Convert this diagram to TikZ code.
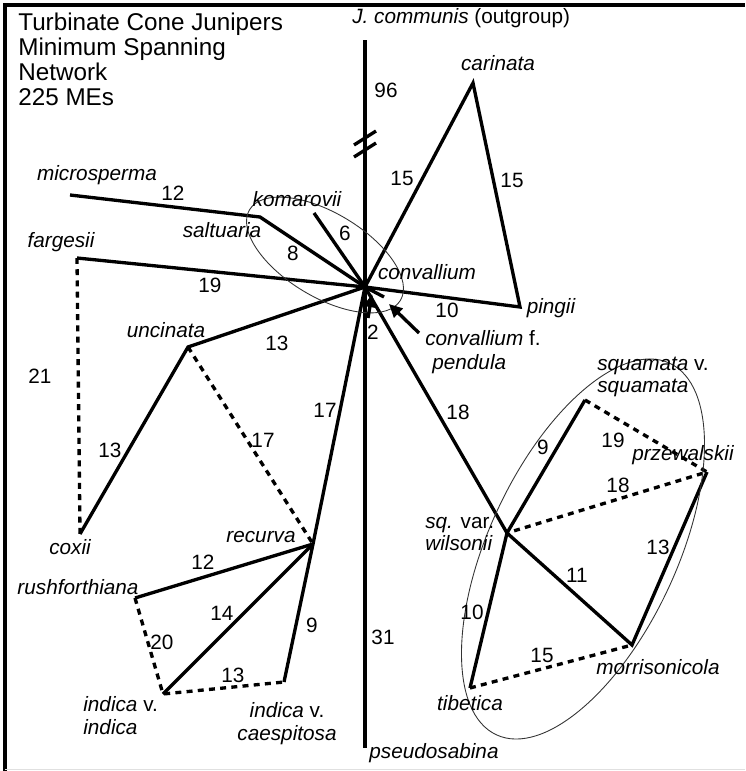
\documentclass[tikz,border=0pt]{standalone}
\usepackage{fontspec}
\setmainfont{Liberation Sans}
\usetikzlibrary{arrows.meta,calc}

\tikzset{
  branch/.style={line width=1.9pt},
  gapline/.style={line width=1.9pt, dash pattern=on 3.4pt off 3pt},
  group/.style={line width=0.5pt, draw=black!80},
  taxon/.style={font=\fontsize{11.8}{13}\selectfont\itshape, inner sep=0pt},
  steps/.style={font=\fontsize{11.8}{13}\selectfont, inner sep=0pt},
  pointer/.style={->, line width=1.9pt},
}

\begin{document}
\begin{tikzpicture}[x=0.02cm, y=-0.02cm, >={Triangle[length=7.5pt,width=7pt]}]
    \useasboundingbox (0,0) rectangle (745,771);

    % Frame
    \draw[line width=1.8pt] (5,771) -- (5,5) -- (745,5);
    \draw[black!12, line width=0.8pt] (5,769.5) -- (745,769.5);

    % Title
    \node[anchor=north west, align=left, inner sep=0pt,
          font=\fontsize{13.8}{14.2}\selectfont] (title) at (18,13)
        {Turbinate Cone Junipers\\Minimum Spanning\\Network\\225 MEs};

    % Taxa (network vertices)
    \coordinate (conv) at (365,287);
    \coordinate (communis) at (365,40);
    \coordinate (pseudosabina) at (365,748);
    \coordinate (carinata) at (473,83);
    \coordinate (pingii) at (520,307);
    \coordinate (komarovii) at (314,213);
    \coordinate (saltuaria) at (260,217);
    \coordinate (microsperma) at (70,195);
    \coordinate (fargesii) at (77,258);
    \coordinate (pendula) at (384,297);
    \coordinate (uncinata) at (188,347);
    \coordinate (coxii) at (80,534);
    \coordinate (recurva) at (313,544);
    \coordinate (rushforthiana) at (135,598);
    \coordinate (indica) at (163,694);
    \coordinate (caespitosa) at (284,682);
    \coordinate (wilsonii) at (507,533);
    \coordinate (squamata) at (585,400);
    \coordinate (przewalskii) at (707,472);
    \coordinate (morrisonicola) at (632,645);
    \coordinate (tibetica) at (470,688);

    % Outgroup axis with break
    \draw[branch] (communis) -- (pseudosabina);
    \draw[branch] (354,145) -- (376,131);
    \draw[branch] (354,157) -- (376,143);

    % Solid links
    \draw[branch] (conv) -- (carinata) -- (pingii) -- (conv);
    \draw[branch] (conv) -- (komarovii);
    \draw[branch] (conv) -- (saltuaria) -- (microsperma);
    \draw[branch] (conv) -- (fargesii);
    \draw[branch] (conv) -- (pendula);
    \draw[branch] (conv) -- (uncinata) -- (coxii);
    \draw[branch] (conv) -- (recurva) -- (caespitosa);
    \draw[branch] (recurva) -- (rushforthiana);
    \draw[branch] (recurva) -- (indica);
    \draw[branch] (conv) -- (wilsonii) -- (morrisonicola) -- (przewalskii);
    \draw[branch] (wilsonii) -- (squamata);
    \draw[branch] (wilsonii) -- (tibetica);

    % Alternative (dashed) links
    \draw[gapline] (fargesii) -- (coxii);
    \draw[gapline] (uncinata) -- (recurva);
    \draw[gapline] (rushforthiana) -- (indica) -- (caespitosa);
    \draw[gapline] (squamata) -- (przewalskii) -- (wilsonii);
    \draw[gapline] (tibetica) -- (morrisonicola);

    % Groupings
    \begin{scope}[shift={(325,255)}, rotate=-31]
        \draw[group] (0,0) ellipse [x radius=88, y radius=42];
    \end{scope}
    \begin{scope}[shift={(583,549)}, rotate=65]
        \draw[group] (0,0) ellipse [x radius=205, y radius=94];
    \end{scope}

    % Taxon names
    \node[anchor=west, inner sep=0pt, font=\fontsize{11.8}{13}\selectfont] (lcommunis) at (352,18)
        {\textit{J. communis} (outgroup)};
    \node[taxon] (lcarinata) at (498,63) {carinata};
    \node[taxon] (lpingii) at (551,308) {pingii};
    \node[taxon] (lkomarovii) at (297,199) {komarovii};
    \node[taxon] (lsaltuaria) at (222,230) {saltuaria};
    \node[taxon] (lmicrosperma) at (97,175) {microsperma};
    \node[taxon] (lfargesii) at (61,242) {fargesii};
    \node[taxon] (lconv) at (427,272) {convallium};
    \node[steps, anchor=west, align=left, font=\fontsize{11.8}{14}\selectfont] (lpendula) at (425,352)
        {\textit{convallium} f.\\\hspace*{4pt}\textit{pendula}};
    \node[taxon] (luncinata) at (166,330) {uncinata};
    \node[taxon] (lcoxii) at (70,547) {coxii};
    \node[taxon] (lrecurva) at (261,537) {recurva};
    \node[taxon] (lrushforthiana) at (78,587) {rushforthiana};
    \node[steps, anchor=west, align=left] (lindica) at (83,716)
        {\textit{indica} v.\\\textit{indica}};
    \node[steps, align=center] (lcaespitosa) at (287,724)
        {\textit{indica} v.\\\textit{caespitosa}};
    \node[taxon] (lpseudosabina) at (434,753) {pseudosabina};
    \node[steps, anchor=west, align=left] (lsquamata) at (597,377)
        {\textit{squamata} v.\\\textit{squamata}};
    \node[taxon] (lprzewalskii) at (683,455) {przewalskii};
    \node[steps, anchor=west, align=left] (lwilsonii) at (425,534)
        {\textit{sq.} var.\\\textit{wilsonii}};
    \node[taxon] (lmorrisonicola) at (658,667) {morrisonicola};
    \node[taxon] (ltibetica) at (470,703) {tibetica};

    % Pointers to convallium f. pendula
    \coordinate (pendtail) at (419,333);
    \coordinate (pendtip) at (389,304);
    \coordinate (twotail) at (368,318);
    \coordinate (twotip) at (372,294);
    \draw[pointer] (pendtail) -- (pendtip);
    \draw[pointer] (twotail) -- (twotip);

    % Mutational steps
    \node[steps] at (386,90) {96};
    \node[steps] at (402,178) {15};
    \node[steps] at (512,180) {15};
    \node[steps] at (447,310) {10};
    \node[steps] at (345,233) {6};
    \node[steps] at (293,253) {8};
    \node[steps] at (173,193) {12};
    \node[steps] at (210,285) {19};
    \node[steps] at (373,332) {2};
    \node[steps] at (40,376) {21};
    \node[steps] at (110,450) {13};
    \node[steps] at (277,343) {13};
    \node[steps] at (263,440) {17};
    \node[steps] at (325,410) {17};
    \node[steps] at (203,562) {12};
    \node[steps] at (222,613) {14};
    \node[steps] at (162,642) {20};
    \node[steps] at (233,675) {13};
    \node[steps] at (312,625) {9};
    \node[steps] at (383,637) {31};
    \node[steps] at (458,412) {18};
    \node[steps] at (543,447) {9};
    \node[steps] at (613,440) {19};
    \node[steps] at (618,485) {18};
    \node[steps] at (577,575) {11};
    \node[steps] at (658,547) {13};
    \node[steps] at (472,612) {10};
    \node[steps] at (542,655) {15};
\end{tikzpicture}
\end{document}
